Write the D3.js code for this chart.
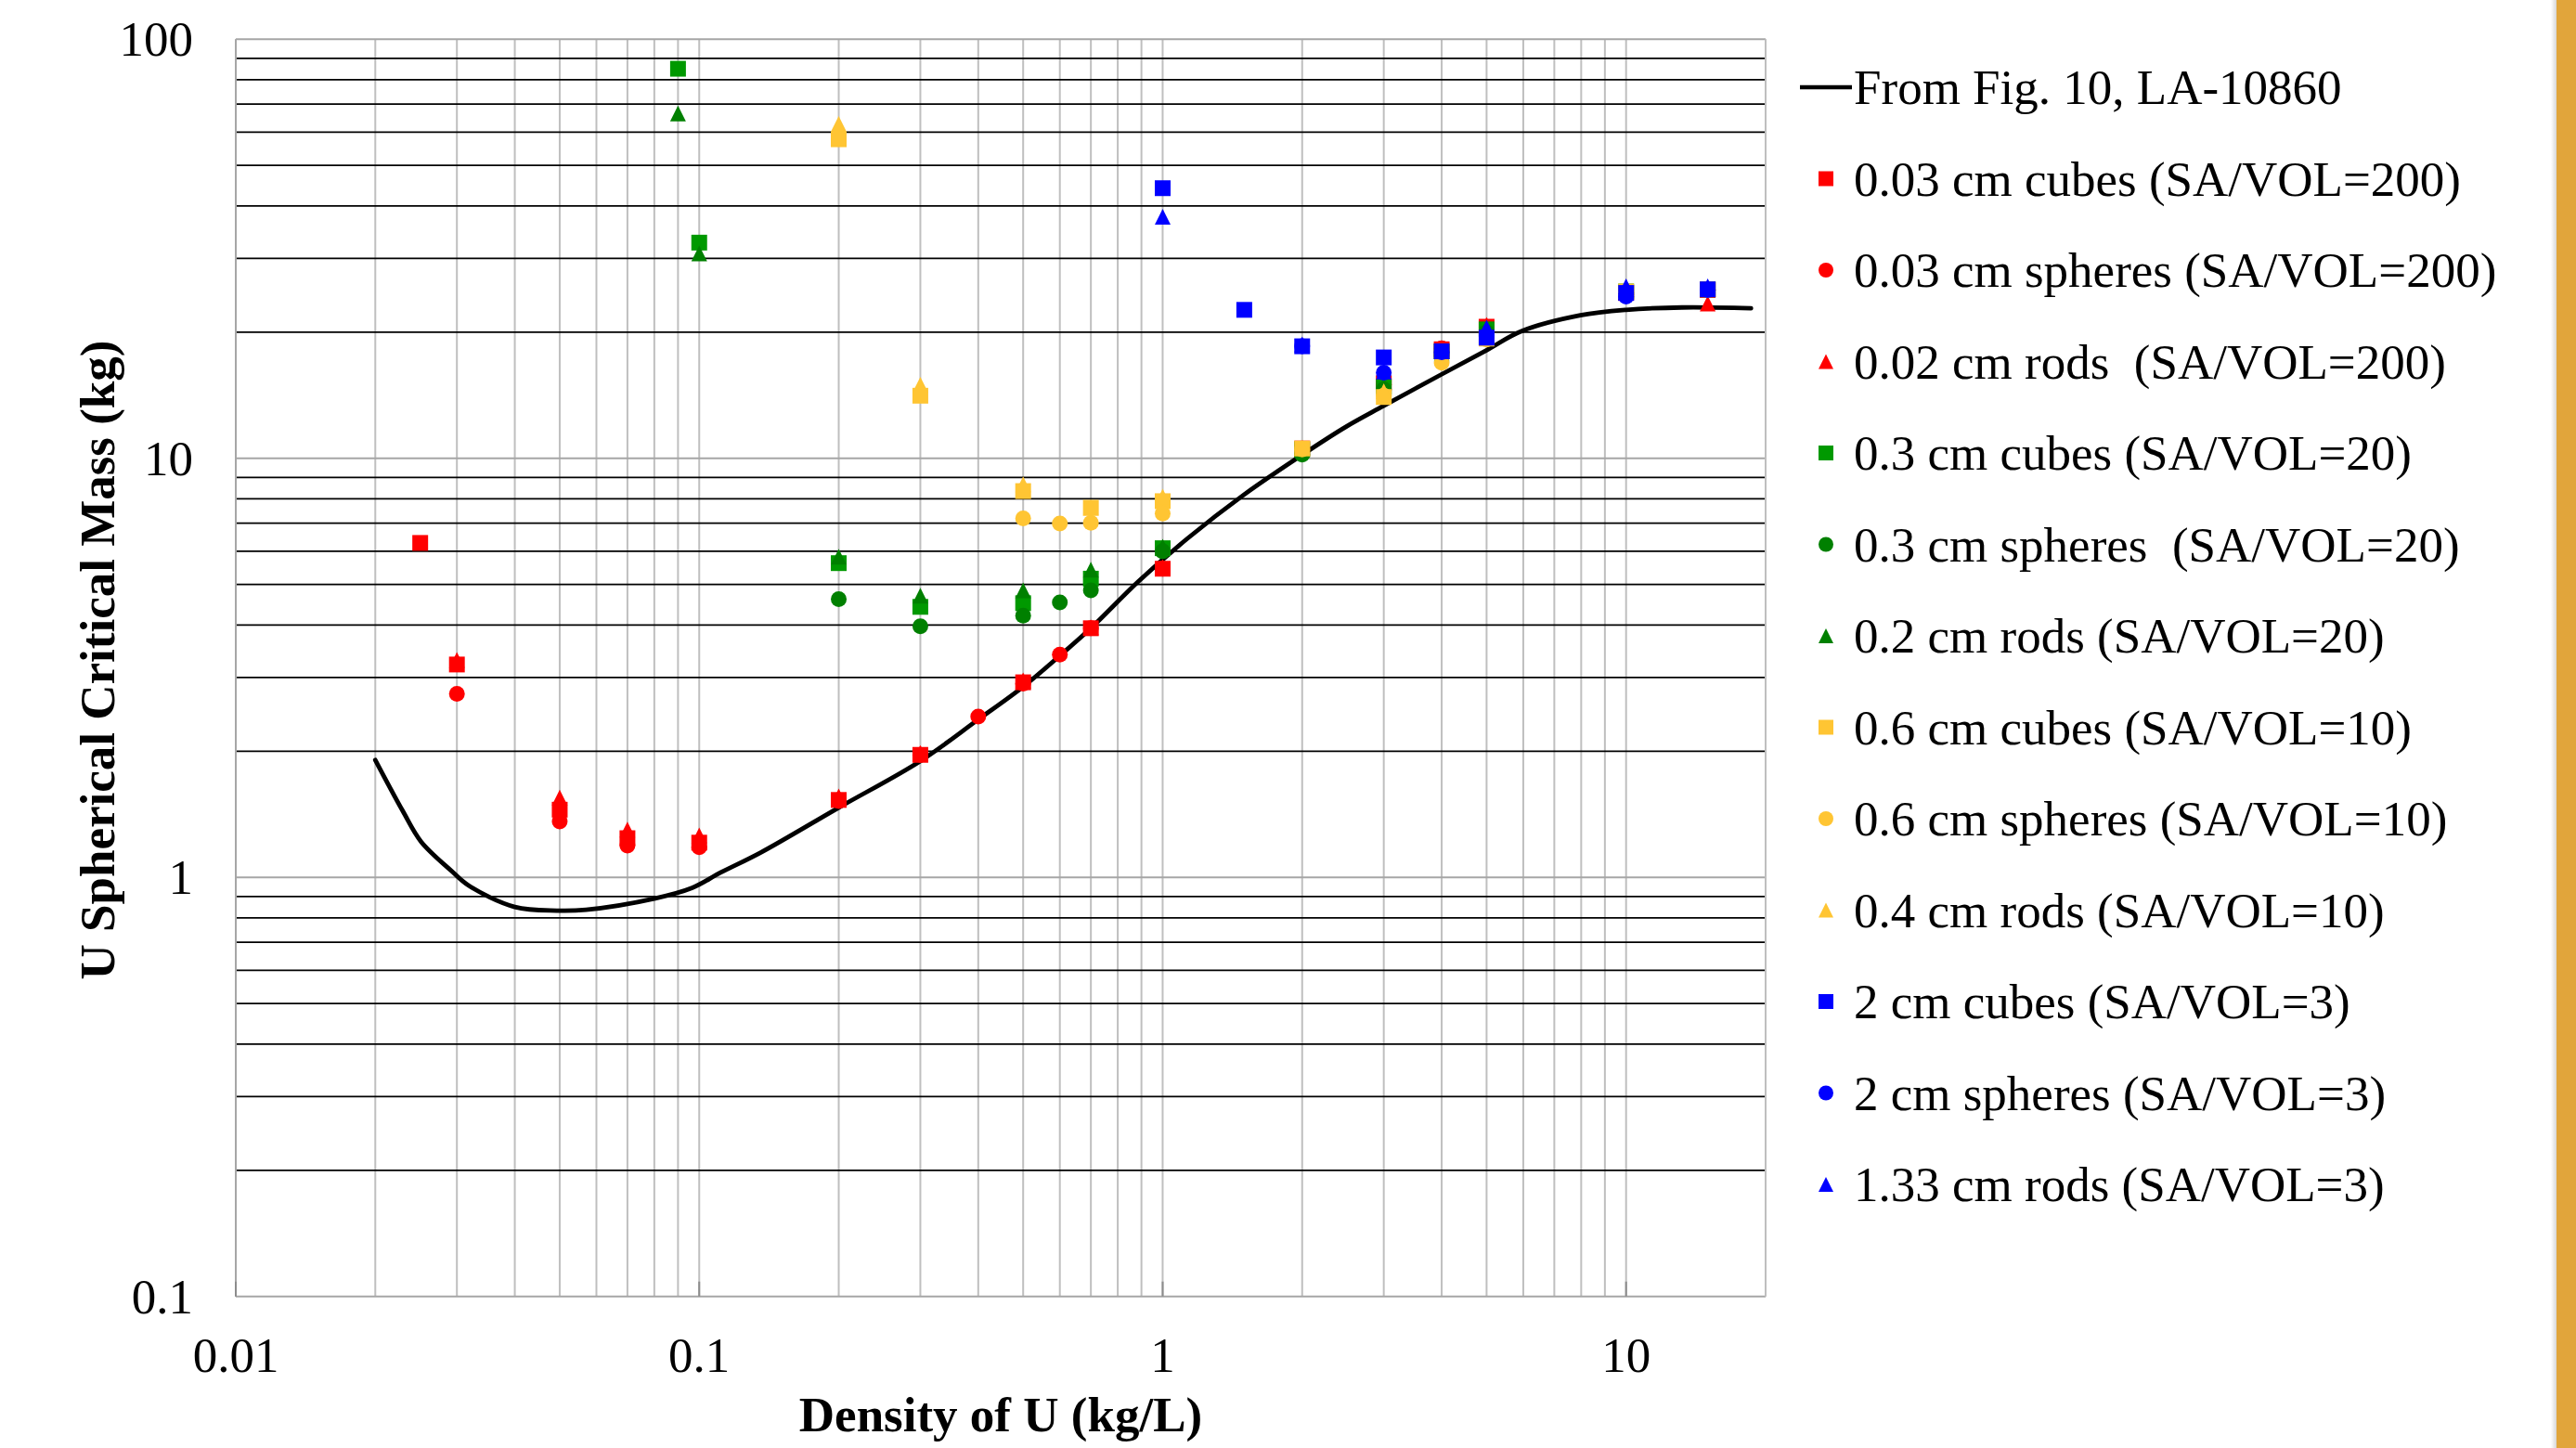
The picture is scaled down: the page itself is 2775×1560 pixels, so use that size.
<!DOCTYPE html>
<html>
<head>
<meta charset="utf-8" />
<style>
    body { margin: 0; background: #fff; }
    svg { display: block; }
    text { font-family: "Liberation Serif", "Times New Roman", serif; fill: #000; }
</style>
</head>
<body>
<svg id="chart" width="2775" height="1560"></svg>
<script src="https://cdn.jsdelivr.net/npm/d3@7/dist/d3.min.js"></script>
<script>
// tick labels
var xTickLabels = [0.01, 0.1, 1, 10];
var yTickLabels = [0.1, 1, 10, 100];

// reference curve (density kg/L, critical mass kg)
var curveLA10860 = [[0.02,1.905],[0.0229,1.443],[0.0251,1.217],[0.0292,1.036],[0.0318,0.956],[0.04,0.85],
    [0.0493,0.833],[0.057,0.837],[0.0804,0.891],[0.0966,0.944],[0.1113,1.027],[0.1359,1.147],[0.2,1.467],
    [0.3,1.894],[0.4,2.38],[0.5,2.85],[0.6,3.38],[0.7,3.93],[0.886,5.08],[1.132,6.44],[1.494,8.17],
    [2.0,10.19],[2.48,11.87],[3.0,13.34],[4.0,15.86],[5.0,18.1],[5.95,20.1],[7.97,21.93],[10,22.6],
    [13.2,22.9],[18.6,22.8]];

// SA/VOL = 200
var redCubes = [[0.025,6.28],[0.03,3.22],[0.05,1.45],[0.07,1.24],[0.1,1.21],[0.2,1.53],[0.3,1.96],[0.5,2.92],
    [0.7,3.93],[1,5.45],[2,10.55],[3,15.1],[4,18.2],[5,20.6],[10,24.8],[15,25.2]];
var redSpheres = [[0.03,2.74],[0.05,1.36],[0.07,1.19],[0.1,1.18],[0.2,1.52],[0.3,1.96],[0.4,2.42],[0.5,2.9],
    [0.6,3.4],[0.7,3.93],[1,5.45],[2,10.55],[3,15.0],[4,18.3],[5,20.5],[10,24.6],[15,25.2]];
var redRods = [[0.03,3.3],[0.05,1.55],[0.07,1.3],[0.1,1.26],[0.2,1.56],[0.3,1.98],[0.5,2.95],[0.7,3.95],
    [1,5.5],[2,10.55],[3,15.3],[4,18.1],[5,20.8],[10,25.0],[15,23.4]];
// SA/VOL = 20
var greenCubes = [[0.09,85],[0.1,32.7],[0.2,5.62],[0.3,4.42],[0.5,4.51],[0.7,5.16],[1,6.1],[2,10.5],
    [3,14.8],[4,18.0],[5,20.3],[10,25.0],[15,25.3]];
var greenSpheres = [[0.2,4.61],[0.3,3.97],[0.5,4.21],[0.6,4.53],[0.7,4.84],[1,6.0],[2,10.2],[3,14.6],
    [4,17.6],[5,20.0],[10,24.8],[15,25.2]];
var greenRods = [[0.09,66.5],[0.1,30.8],[0.2,5.82],[0.3,4.7],[0.5,4.84],[0.7,5.42],[1,6.15],[2,10.5],
    [3,14.9],[4,17.8],[5,20.4],[10,25.2],[15,25.4]];
// SA/VOL = 10
var orangeCubes = [[0.2,57.7],[0.3,14.1],[0.5,8.35],[0.7,7.62],[1,7.9],[2,10.55],[3,14.0],[4,18.0],
    [5,19.3],[10,25.0],[15,25.3]];
var orangeSpheres = [[0.5,7.19],[0.6,6.99],[0.7,7.01],[1,7.38],[2,10.5],[3,14.1],[4,16.9],[5,19.2],
    [10,24.9],[15,25.2]];
var orangeRods = [[0.2,62.8],[0.3,14.97],[0.5,8.67],[0.7,7.62],[1,8.1],[2,10.6],[3,14.45],[4,18.0],
    [5,19.6],[10,25.3],[15,25.5]];
// SA/VOL = 3
var blueCubes = [[1,44.1],[1.5,22.6],[2,18.5],[3,17.4],[4,18.0],[5,19.4],[10,24.8],[15,25.3]];
var blueSpheres = [[2,18.5],[3,16.0],[4,17.9],[5,19.6],[10,24.3],[15,25.2]];
var blueRods = [[1,37.7],[2,18.7],[3,16.1],[4,18.0],[5,20.5],[10,25.7],[15,25.7]];

var curveLabel = 'From Fig. 10, LA-10860';
var seriesLabels = ['0.03 cm cubes (SA/VOL=200)', '0.03 cm spheres (SA/VOL=200)', '0.02 cm rods  (SA/VOL=200)',
    '0.3 cm cubes (SA/VOL=20)', '0.3 cm spheres  (SA/VOL=20)', '0.2 cm rods (SA/VOL=20)',
    '0.6 cm cubes (SA/VOL=10)', '0.6 cm spheres (SA/VOL=10)', '0.4 cm rods (SA/VOL=10)',
    '2 cm cubes (SA/VOL=3)', '2 cm spheres (SA/VOL=3)', '1.33 cm rods (SA/VOL=3)'];

var series = [
    {values: redCubes, shape: 'square', color: '#ff0000'},
    {values: redSpheres, shape: 'circle', color: '#ff0000'},
    {values: redRods, shape: 'triangle', color: '#ff0000'},
    {values: greenCubes, shape: 'square', color: '#009900'},
    {values: greenSpheres, shape: 'circle', color: '#008000'},
    {values: greenRods, shape: 'triangle', color: '#008000'},
    {values: orangeCubes, shape: 'square', color: '#ffc533'},
    {values: orangeSpheres, shape: 'circle', color: '#ffc533'},
    {values: orangeRods, shape: 'triangle', color: '#ffc533'},
    {values: blueCubes, shape: 'square', color: '#0000ff'},
    {values: blueSpheres, shape: 'circle', color: '#0000ff'},
    {values: blueRods, shape: 'triangle', color: '#0000ff'}
];
series.forEach(function(s, i){ s.label = seriesLabels[i]; });

var svg = d3.select('#chart');
var plotLeft = 254, plotRight = 1902, plotTop = 42.2, plotBottom = 1396.7;

var x = d3.scaleLog().domain([0.01, 20]).range([plotLeft, plotRight]);
var y = d3.scaleLog().domain([0.1, 100]).range([plotBottom, plotTop]);

function markerPath(shape, s){
    var h = s / 2;
    if(shape == 'square'){
        return 'M' + (-h) + ',' + (-h) + 'h' + s + 'v' + s + 'h' + (-s) + 'Z';
    }else if(shape == 'triangle'){
        return 'M0,' + (-h) + 'L' + h + ',' + h + 'L' + (-h) + ',' + h + 'Z';
    }
    return 'M' + h + ',0A' + h + ',' + h + ' 0 1,1 ' + (-h) + ',0A' + h + ',' + h + ' 0 1,1 ' + h + ',0Z';
}

// orange strip at the right edge
var defs = svg.append('defs');
var grad = defs.append('linearGradient').attr('id', 'shade');
grad.append('stop').attr('offset', '0%').attr('stop-color', '#ffffff');
grad.append('stop').attr('offset', '100%').attr('stop-color', '#d6d6d6');
svg.append('rect').attr('x', 2748).attr('y', 0).attr('width', 6).attr('height', 1560).attr('fill', 'url(#shade)');
svg.append('rect').attr('x', 2754).attr('y', 0).attr('width', 21).attr('height', 1560).attr('fill', '#e1a53b');

// grid
var grid = svg.append('g');
grid.selectAll('.vgrid')
    .data(x.ticks())
    .enter().append('line')
    .attr('class', 'vgrid')
    .attr('x1', function(d){ return x(d); })
    .attr('x2', function(d){ return x(d); })
    .attr('y1', plotTop).attr('y2', plotBottom)
    .attr('stroke', '#bfbfbf').attr('stroke-width', 2);

function isMajor(d){ return Math.abs(Math.log10(d) - Math.round(Math.log10(d))) < 1e-6; }

var yTicks = y.ticks();
grid.selectAll('.hminor')
    .data(yTicks.filter(function(d){ return !isMajor(d); }))
    .enter().append('line')
    .attr('class', 'hminor')
    .attr('x1', plotLeft).attr('x2', plotRight)
    .attr('y1', function(d){ return y(d); })
    .attr('y2', function(d){ return y(d); })
    .attr('stroke', '#000').attr('stroke-width', 1.8);

grid.selectAll('.hmajor')
    .data(yTicks.filter(isMajor))
    .enter().append('line')
    .attr('class', 'hmajor')
    .attr('x1', plotLeft).attr('x2', plotRight)
    .attr('y1', function(d){ return y(d); })
    .attr('y2', function(d){ return y(d); })
    .attr('stroke', '#a6a6a6').attr('stroke-width', 2);

grid.append('line').attr('x1', plotLeft).attr('x2', plotLeft).attr('y1', plotTop).attr('y2', plotBottom)
    .attr('stroke', '#a6a6a6').attr('stroke-width', 2);
grid.append('line').attr('x1', plotRight).attr('x2', plotRight).attr('y1', plotTop).attr('y2', plotBottom)
    .attr('stroke', '#bfbfbf').attr('stroke-width', 2);

// small inner ticks on the bottom axis
grid.selectAll('.xtick')
    .data(xTickLabels)
    .enter().append('line')
    .attr('x1', function(d){ return x(d); })
    .attr('x2', function(d){ return x(d); })
    .attr('y1', plotBottom - 16).attr('y2', plotBottom)
    .attr('stroke', '#8c8c8c').attr('stroke-width', 2);

// tick labels
svg.selectAll('.ylabel')
    .data(yTickLabels)
    .enter().append('text')
    .attr('class', 'ylabel')
    .attr('x', 208)
    .attr('y', function(d){ return y(d); })
    .attr('dy', '0.34em')
    .attr('text-anchor', 'end')
    .style('font-size', '53px')
    .text(function(d){ return d; });

svg.selectAll('.xlabel')
    .data(xTickLabels)
    .enter().append('text')
    .attr('class', 'xlabel')
    .attr('x', function(d){ return x(d); })
    .attr('y', 1478)
    .attr('text-anchor', 'middle')
    .style('font-size', '53px')
    .text(function(d){ return d; });

// axis titles
svg.append('text')
    .attr('x', (plotLeft + plotRight) / 2).attr('y', 1542)
    .attr('text-anchor', 'middle')
    .style('font-size', '53px').style('font-weight', 'bold')
    .text('Density of U (kg/L)');

svg.append('text')
    .attr('transform', 'translate(123,711) rotate(-90)')
    .attr('text-anchor', 'middle')
    .style('font-size', '53px').style('font-weight', 'bold')
    .text('U Spherical Critical Mass (kg)');

// reference curve
var line = d3.line()
    .x(function(d){ return x(d[0]); })
    .y(function(d){ return y(d[1]); })
    .curve(d3.curveCatmullRom.alpha(0.5));

svg.append('path')
    .datum(curveLA10860)
    .attr('d', line)
    .attr('fill', 'none')
    .attr('stroke', '#000')
    .attr('stroke-width', 4.8)
    .attr('stroke-linecap', 'round')
    .attr('stroke-linejoin', 'round');

// markers
series.forEach(function(s){
    svg.append('g').selectAll('path')
        .data(s.values)
        .enter().append('path')
        .attr('d', markerPath(s.shape, 17))
        .attr('transform', function(d){ return 'translate(' + x(d[0]) + ',' + y(d[1]) + ')'; })
        .attr('fill', s.color);
});

// legend
var legend = svg.append('g');
var legendY = function(i){ return 94 + i * 98.5; };

legend.append('line')
    .attr('x1', 1939).attr('x2', 1995)
    .attr('y1', legendY(0)).attr('y2', legendY(0))
    .attr('stroke', '#000').attr('stroke-width', 4.5);
legend.append('text')
    .attr('x', 1997).attr('y', legendY(0)).attr('dy', '0.34em')
    .style('font-size', '53px')
    .text(curveLabel);

series.forEach(function(s, i){
    legend.append('path')
        .attr('d', markerPath(s.shape, 16))
        .attr('transform', 'translate(1967,' + legendY(i + 1) + ')')
        .attr('fill', s.color);
    legend.append('text')
        .attr('x', 1997).attr('y', legendY(i + 1)).attr('dy', '0.34em')
        .style('font-size', '53px')
        .style('white-space', 'pre')
        .text(s.label);
});
</script>
</body>
</html>
